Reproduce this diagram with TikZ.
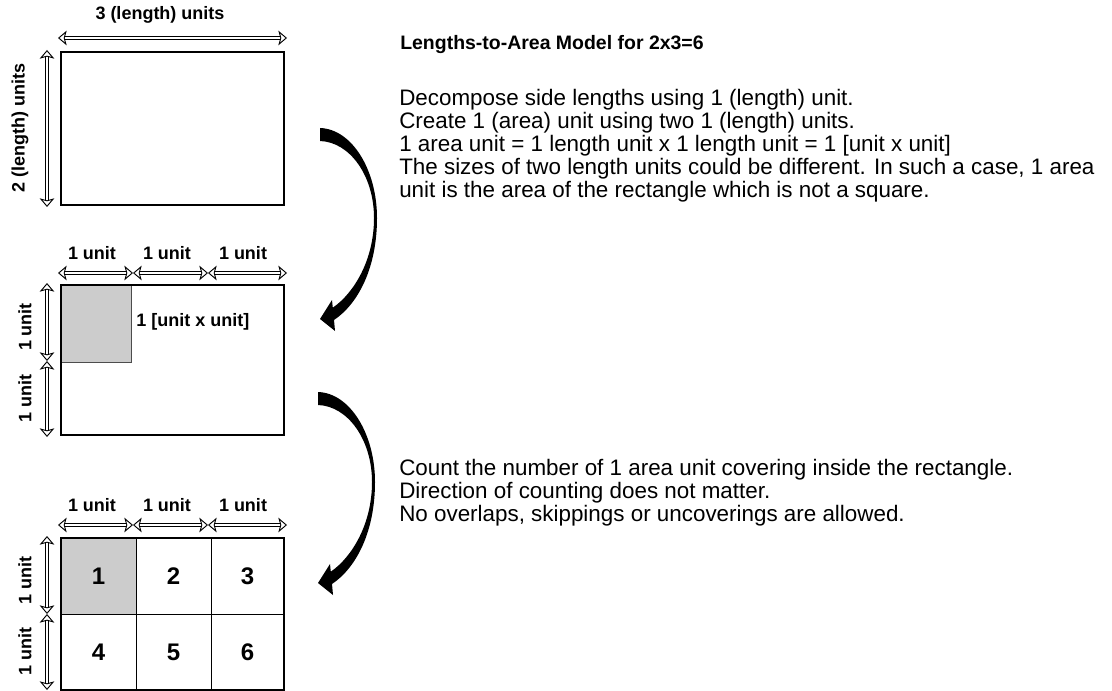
\documentclass[tikz,border=0pt]{standalone}
\usepackage{fontspec}
\setmainfont{Liberation Sans}
\usetikzlibrary{arrows.meta}

\begin{document}
\begin{tikzpicture}[x=0.75pt, y=-0.75pt,
  frame/.style={line width=2pt},
  dim/.style={double, double distance=2.1pt, line width=0.7pt,
    {Stealth[open, fill=white, length=6.5pt, width=11pt, inset=1.5pt]}-{Stealth[open, fill=white, length=6.5pt, width=11pt, inset=1.5pt]}},
  lab/.style={font=\bfseries\fontsize{13.5}{15}\selectfont, inner sep=0},
  num/.style={font=\bfseries\fontsize{18}{20}\selectfont},
  body/.style={font=\fontsize{16.8}{17.2}\selectfont, align=left, anchor=north west, inner sep=0},
  unitsq/.style={draw=black!70, fill=black!20, line width=0.6pt},
  cell/.style={draw, line width=0.6pt, minimum width=56.25pt, minimum height=57pt, inner sep=0},
  cell1/.style={fill=black!20},
  cell3/.style={minimum width=54.75pt},
  cell6/.style={minimum width=54.75pt},
  turn arrow/.pic={
    \fill (0,0) .. controls (32,1) and (57,42) .. (57,90)
      .. controls (57,140) and (38,176) .. (14,192) -- (15,203) -- (0,191) -- (12,172) -- (12.8,179.7)
      .. controls (34,165) and (54,132) .. (54,90)
      .. controls (54,48) and (30,14) .. (0,13) -- cycle;
  }]
\useasboundingbox (0,0) rectangle (1112,691);

% first stage: the whole rectangle
\draw[frame] (61,52) rectangle (284,205);
\coordinate (tl) at (58,38);  \coordinate (tr) at (287,38);
\coordinate (lt) at (47,50);  \coordinate (lb) at (47,207);
\draw[dim] (tl) -- (tr);
\draw[dim] (lt) -- (lb);
\node[lab] (len3) at (160,15) {3 (length) units};
\node[lab, rotate=90] (len2) at (20,128) {2 (length) units};

% second stage: one unit square
\fill[unitsq] (61,285) rectangle (131,362);
\draw[frame] (61,285) rectangle (284,435);
\node[lab, anchor=west] (area) at (136,322) {1 [unit x unit]};

% third stage: counting the squares
\foreach \n/\x/\y in {1/98.5/576, 2/173.5/576, 3/247.5/576,
                      4/98.5/652, 5/173.5/652, 6/247.5/652}
  \node[cell, num, cell\n/.try] (c\n) at (\x,\y) {\n};
\draw[frame] (61,538) rectangle (284,690);

% unit arrows of stages two and three
\foreach \s/\y/\v in {m/273/285, b/525/538} {
  \foreach \x [count=\i] in {58,133,208,287}
    \coordinate (\s h\i) at (\x,\y);
  \coordinate (\s v1) at (47,\v-2);
  \coordinate (\s v2) at (47,\v+76);
  \coordinate (\s v3) at (47,\v+152);
  \draw[dim] (\s h1) -- (\s h2);
  \draw[dim] (\s h2) -- (\s h3);
  \draw[dim] (\s h3) -- (\s h4);
  \draw[dim] (\s v1) -- (\s v2);
  \draw[dim] (\s v2) -- (\s v3);
  \node[lab] (\s u1) at (92,\y-20) {1 unit};
  \node[lab] (\s u2) at (167,\y-20) {1 unit};
  \node[lab] (\s u3) at (243,\y-20) {1 unit};
  \node[lab, rotate=90] (\s u4) at (25,\v+42) {1 unit};
  \node[lab, rotate=90] (\s u5) at (25,\v+113) {1 unit};
}

% curved arrows between the stages
\pic at (320,128) {turn arrow};
\pic at (318,392) {turn arrow};

% texts
\node[font=\bfseries\fontsize{14.6}{17}\selectfont, anchor=west, inner sep=0] (title) at (400,45)
  {Lengths-to-Area Model for 2x3=6};
\node[body] (step1) at (399,89) {Decompose side lengths using 1 (length) unit.\\
  Create 1 (area) unit using two 1 (length) units.\\
  1 area unit = 1 length unit x 1 length unit = 1 [unit x unit]\\
  The sizes of two length units could be different. In such a case, 1 area\\
  unit is the area of the rectangle which is not a square.};
\node[body] (step2) at (399,459) {Count the number of 1 area unit covering inside the rectangle.\\
  Direction of counting does not matter.\\
  No overlaps, skippings or uncoverings are allowed.};
\end{tikzpicture}
\end{document}
